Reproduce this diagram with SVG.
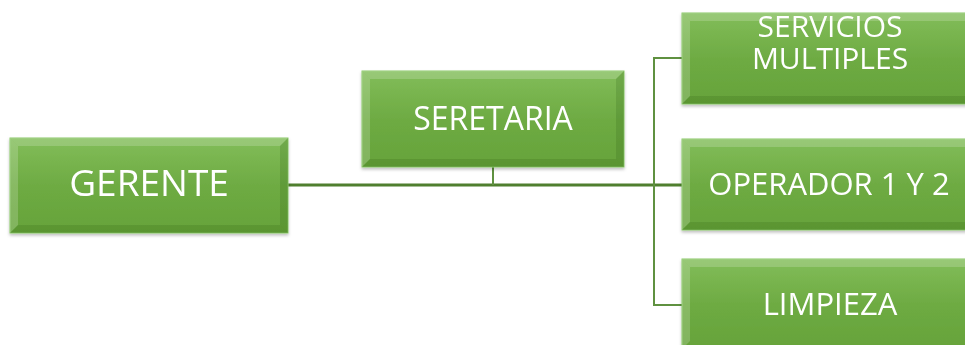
<svg xmlns="http://www.w3.org/2000/svg" width="965" height="345" viewBox="0 0 965 345">
<style>
.box{fill:url(#g);stroke:#8cc96a;stroke-width:1}
.hi{fill:#ffffff;opacity:0.18}
.lo{fill:#2f5f14;opacity:0.2}
.t{font-family:"Open Sans","Liberation Sans",sans-serif;fill:#ffffff;text-anchor:middle}
.main{stroke:#4f7f2e;stroke-width:3;fill:none}
.br{stroke:#5f9140;stroke-width:2;fill:none}
</style>
<defs>
<linearGradient id="g" x1="0" y1="0" x2="0" y2="1">
<stop offset="0" stop-color="#82bd59"/>
<stop offset="0.5" stop-color="#6eab43"/>
<stop offset="1" stop-color="#66a33a"/>
</linearGradient>
<filter id="sh" x="-5%" y="-5%" width="110%" height="120%">
<feDropShadow dx="0" dy="2" stdDeviation="1.5" flood-color="#000" flood-opacity="0.25"/>
</filter>
</defs>
<g id="connectors">
<line class="main" x1="288" y1="185" x2="683" y2="185"/>
<line class="br" x1="493" y1="167" x2="493" y2="185"/>
<polyline class="br" points="683,58 654,58 654,305 683,305"/>
</g>
<g id="gerente" filter="url(#sh)">
<rect class="box" x="10" y="138" width="278" height="95"/>
<polygon class="hi" points="10,138 288,138 280,146 18,146"/>
<polygon class="hi" points="10,138 18,146 18,225 10,233"/>
<polygon class="lo" points="10,233 18,225 280,225 288,233"/>
<polygon class="lo" points="288,138 288,233 280,225 280,146"/>
<text class="t" x="149" y="196" font-size="37">GERENTE</text>
</g>
<g id="seretaria" filter="url(#sh)">
<rect class="box" x="362" y="71" width="262" height="96"/>
<polygon class="hi" points="362,71 624,71 616,79 370,79"/>
<polygon class="hi" points="362,71 370,79 370,159 362,167"/>
<polygon class="lo" points="362,167 370,159 616,159 624,167"/>
<polygon class="lo" points="624,71 624,167 616,159 616,79"/>
<text class="t" x="493" y="130" font-size="32">SERETARIA</text>
</g>
<g id="servicios" filter="url(#sh)">
<rect class="box" x="682" y="13" width="296" height="91"/>
<polygon class="hi" points="682,13 978,13 970,21 690,21"/>
<polygon class="hi" points="682,13 690,21 690,96 682,104"/>
<polygon class="lo" points="682,104 690,96 970,96 978,104"/>
<text class="t" x="830" y="37" font-size="30">SERVICIOS</text>
<text class="t" x="830" y="69" font-size="30">MULTIPLES</text>
</g>
<g id="operador" filter="url(#sh)">
<rect class="box" x="682" y="139" width="296" height="91"/>
<polygon class="hi" points="682,139 978,139 970,147 690,147"/>
<polygon class="hi" points="682,139 690,147 690,222 682,230"/>
<polygon class="lo" points="682,230 690,222 970,222 978,230"/>
<text class="t" x="829" y="195" font-size="31">OPERADOR 1 Y 2</text>
</g>
<g id="limpieza" filter="url(#sh)">
<rect class="box" x="682" y="259" width="296" height="90"/>
<polygon class="hi" points="682,259 978,259 970,267 690,267"/>
<polygon class="hi" points="682,259 690,267 690,341 682,349"/>
<text class="t" x="830" y="315" font-size="31">LIMPIEZA</text>
</g>
</svg>
